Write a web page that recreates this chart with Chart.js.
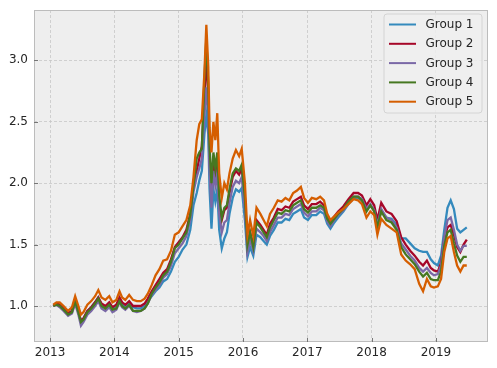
<!DOCTYPE html>
<html>
<head>
<meta charset="utf-8">
<script src="https://cdn.jsdelivr.net/npm/chart.js@4.4.1/dist/chart.umd.min.js"></script>
<style>
html,body{margin:0;padding:0;background:#fff;}
canvas{display:block;}
</style>
</head>
<body>
<canvas id="c" width="497" height="368"></canvas>
<script>
// decimal-year dates
const dates = [
2013.05,2013.10,2013.15,2013.21,2013.28,2013.34,2013.39,2013.44,2013.48,2013.52,2013.58,2013.64,2013.70,2013.75,2013.80,2013.86,2013.92,2013.97,
2014.03,2014.08,2014.12,2014.17,2014.23,2014.29,2014.35,2014.41,2014.47,2014.52,2014.58,2014.64,2014.70,2014.76,2014.82,2014.88,2014.94,
2015.00,2015.06,2015.12,2015.18,2015.23,2015.28,2015.32,2015.36,2015.40,2015.43,2015.46,2015.48,2015.51,2015.54,2015.57,2015.60,2015.63,2015.67,2015.71,2015.75,2015.79,2015.84,2015.89,2015.94,2015.98,
2016.03,2016.07,2016.11,2016.16,2016.21,2016.27,2016.32,2016.37,2016.42,2016.48,2016.54,2016.60,2016.66,2016.72,2016.78,2016.84,2016.90,2016.95,
2017.01,2017.07,2017.14,2017.20,2017.26,2017.31,2017.36,2017.42,2017.48,2017.56,2017.64,2017.72,2017.79,2017.85,2017.92,2017.98,
2018.04,2018.09,2018.15,2018.23,2018.31,2018.39,2018.46,2018.53,2018.60,2018.67,2018.74,2018.80,2018.86,2018.92,2018.97,
2019.03,2019.08,2019.13,2019.18,2019.23,2019.28,2019.33,2019.38,2019.43,2019.48
];

const group1 = [
1.00,1.02,1.01,0.98,0.94,0.96,1.05,0.96,0.87,0.90,0.96,0.99,1.03,1.07,1.01,0.99,1.02,0.98,
1.00,1.06,1.02,1.00,1.03,0.99,0.98,0.98,1.00,1.04,1.08,1.12,1.15,1.20,1.22,1.28,1.36,
1.40,1.46,1.50,1.62,1.82,1.92,2.02,2.10,2.40,2.55,2.40,1.95,1.63,1.95,1.85,1.95,1.62,1.47,1.55,1.60,1.75,1.88,1.95,1.93,1.96,
1.70,1.40,1.48,1.41,1.58,1.56,1.53,1.50,1.57,1.62,1.68,1.68,1.71,1.70,1.75,1.77,1.79,1.72,
1.70,1.74,1.74,1.77,1.75,1.67,1.63,1.68,1.72,1.77,1.83,1.88,1.88,1.86,1.78,1.82,
1.78,1.66,1.78,1.72,1.71,1.66,1.55,1.55,1.51,1.47,1.45,1.44,1.44,1.38,1.35,
1.33,1.41,1.62,1.80,1.86,1.79,1.63,1.60,1.62,1.64
];
const group2 = [
1.00,1.02,1.01,0.98,0.94,0.96,1.05,0.96,0.88,0.90,0.96,0.99,1.03,1.07,1.02,1.00,1.03,0.99,
1.01,1.07,1.03,1.01,1.04,1.00,1.00,1.00,1.02,1.06,1.12,1.17,1.22,1.27,1.30,1.38,1.48,
1.52,1.56,1.62,1.75,1.98,2.10,2.20,2.30,2.70,3.05,2.70,2.20,1.90,2.20,2.05,2.15,1.82,1.70,1.78,1.80,1.92,2.05,2.10,2.07,2.12,
1.85,1.48,1.60,1.50,1.70,1.66,1.62,1.58,1.67,1.72,1.79,1.78,1.81,1.80,1.85,1.87,1.89,1.82,
1.79,1.83,1.83,1.85,1.82,1.73,1.69,1.73,1.77,1.81,1.87,1.92,1.92,1.90,1.82,1.87,
1.82,1.70,1.84,1.77,1.75,1.69,1.56,1.50,1.45,1.41,1.36,1.33,1.37,1.31,1.29,
1.28,1.35,1.55,1.64,1.66,1.58,1.48,1.44,1.50,1.54
];
const group3 = [
1.00,1.01,0.99,0.96,0.92,0.94,1.02,0.93,0.84,0.87,0.93,0.96,1.00,1.04,0.98,0.96,0.99,0.95,
0.97,1.03,0.99,0.97,1.00,0.96,0.95,0.96,0.98,1.02,1.09,1.13,1.17,1.23,1.26,1.33,1.43,
1.47,1.51,1.57,1.70,1.93,2.05,2.12,2.20,2.55,2.78,2.55,2.10,1.80,2.10,1.98,2.08,1.75,1.60,1.68,1.70,1.84,1.97,2.02,2.00,2.05,
1.78,1.44,1.54,1.45,1.63,1.60,1.57,1.53,1.60,1.66,1.72,1.72,1.75,1.74,1.79,1.81,1.83,1.76,
1.73,1.77,1.77,1.80,1.78,1.69,1.65,1.70,1.74,1.78,1.84,1.89,1.89,1.87,1.79,1.83,
1.78,1.66,1.79,1.72,1.70,1.64,1.51,1.46,1.41,1.37,1.31,1.28,1.31,1.27,1.25,
1.26,1.33,1.56,1.70,1.72,1.62,1.50,1.45,1.49,1.49
];
const group4 = [
1.00,1.01,1.00,0.97,0.93,0.95,1.04,0.95,0.87,0.89,0.95,0.98,1.02,1.06,1.00,0.98,1.01,0.97,
0.98,1.04,1.00,0.98,1.01,0.96,0.96,0.96,0.98,1.02,1.10,1.15,1.19,1.25,1.28,1.36,1.47,
1.50,1.55,1.60,1.74,1.98,2.20,2.25,2.28,2.85,3.18,2.80,2.30,2.00,2.25,2.12,2.25,1.90,1.72,1.80,1.82,1.95,2.08,2.12,2.10,2.15,
1.88,1.50,1.60,1.48,1.68,1.64,1.60,1.56,1.64,1.70,1.76,1.75,1.78,1.77,1.82,1.84,1.86,1.79,
1.76,1.80,1.80,1.82,1.80,1.71,1.67,1.71,1.75,1.79,1.85,1.89,1.89,1.86,1.77,1.82,
1.77,1.64,1.77,1.70,1.68,1.62,1.48,1.42,1.38,1.34,1.28,1.24,1.27,1.22,1.21,
1.21,1.28,1.49,1.60,1.62,1.51,1.41,1.36,1.40,1.40
];
const group5 = [
1.01,1.03,1.03,1.00,0.96,0.99,1.08,1.00,0.93,0.95,1.01,1.04,1.08,1.13,1.07,1.05,1.08,1.03,
1.05,1.12,1.07,1.05,1.09,1.05,1.04,1.04,1.06,1.10,1.17,1.25,1.30,1.37,1.38,1.45,1.58,
1.60,1.65,1.70,1.82,2.05,2.35,2.48,2.52,2.90,3.29,2.95,2.45,2.25,2.50,2.35,2.57,2.08,1.88,2.00,1.95,2.08,2.20,2.27,2.22,2.28,
2.00,1.58,1.70,1.57,1.80,1.75,1.70,1.65,1.75,1.80,1.86,1.85,1.88,1.86,1.92,1.94,1.97,1.88,
1.84,1.88,1.87,1.89,1.86,1.75,1.70,1.73,1.76,1.79,1.83,1.87,1.86,1.83,1.72,1.77,
1.74,1.58,1.71,1.66,1.63,1.60,1.42,1.37,1.34,1.30,1.18,1.12,1.22,1.16,1.15,
1.16,1.22,1.44,1.55,1.57,1.44,1.33,1.28,1.33,1.33
];

const seriesNames = ['Group 1','Group 2','Group 3','Group 4','Group 5'];
const xTickValues = [2013,2014,2015,2016,2017,2018,2019];
const yTickValues = [1.0,1.5,2.0,2.5,3.0];
const yTickLabels = ['1.0','1.5','2.0','2.5','3.0'];

const colors = ['#348ABD','#A60628','#7A68A6','#467821','#D55E00'];
const allSeries = [group1,group2,group3,group4,group5];
const FONT = 'DejaVu Sans';

const datasets = allSeries.map((s,i)=>({
  label: seriesNames[i],
  data: dates.map((d,j)=>({x:d,y:s[j]})),
  borderColor: colors[i],
  backgroundColor: colors[i],
  borderWidth: 2.3,
  pointRadius: 0,
  tension: 0,
  fill: false,
  order: 4 - i
}));

function noPad(s){ s.paddingTop=0; s.paddingBottom=0; s.paddingLeft=0; s.paddingRight=0; }

const decor = {
  id:'decor',
  beforeDraw(chart){
    const {ctx, chartArea:a} = chart;
    ctx.save();
    ctx.fillStyle='#ffffff';
    ctx.fillRect(0,0,chart.width,chart.height);
    ctx.fillStyle='#eeeeee';
    ctx.fillRect(a.left,a.top,a.right-a.left,a.bottom-a.top);
    ctx.restore();
  },
  afterDatasetsDraw(chart){
    const {ctx, chartArea:a, scales} = chart;
    ctx.save();
    // frame
    ctx.strokeStyle='#bcbcbc';
    ctx.lineWidth=1;
    ctx.strokeRect(a.left+0.5,a.top+0.5,a.right-a.left-1,a.bottom-a.top-1);
    // inner ticks
    ctx.strokeStyle='#777';
    ctx.beginPath();
    xTickValues.forEach(v=>{
      const px=Math.round(scales.x.getPixelForValue(v))+0.5;
      ctx.moveTo(px,a.bottom); ctx.lineTo(px,a.bottom-4);
    });
    yTickValues.forEach(v=>{
      const py=Math.round(scales.y.getPixelForValue(v))+0.5;
      ctx.moveTo(a.left,py); ctx.lineTo(a.left+4,py);
    });
    ctx.stroke();
    // legend
    const bx=384, by=14, bw=98, bh=99, r=3;
    ctx.beginPath();
    ctx.moveTo(bx+r,by);
    ctx.lineTo(bx+bw-r,by); ctx.quadraticCurveTo(bx+bw,by,bx+bw,by+r);
    ctx.lineTo(bx+bw,by+bh-r); ctx.quadraticCurveTo(bx+bw,by+bh,bx+bw-r,by+bh);
    ctx.lineTo(bx+r,by+bh); ctx.quadraticCurveTo(bx,by+bh,bx,by+bh-r);
    ctx.lineTo(bx,by+r); ctx.quadraticCurveTo(bx,by,bx+r,by);
    ctx.closePath();
    ctx.fillStyle='rgba(238,238,238,0.85)';
    ctx.fill();
    ctx.strokeStyle='#d4d4d4';
    ctx.lineWidth=1;
    ctx.stroke();
    ctx.font='12px "'+FONT+'"';
    ctx.textBaseline='middle';
    ctx.textAlign='left';
    chart.data.datasets.forEach((ds,i)=>{
      const y=24.5+i*19.3;
      ctx.strokeStyle=ds.borderColor;
      ctx.lineWidth=2;
      ctx.beginPath(); ctx.moveTo(389,y); ctx.lineTo(416,y); ctx.stroke();
      ctx.fillStyle='#262626';
      ctx.fillText(ds.label,425.5,y+0.5);
    });
    ctx.restore();
  }
};

new Chart(document.getElementById('c'),{
  type:'line',
  data:{datasets},
  plugins:[decor],
  options:{
    responsive:false,
    animation:false,
    devicePixelRatio:1,
    layout:{padding:{top:10,right:9,left:0,bottom:0}},
    plugins:{legend:{display:false},tooltip:{enabled:false}},
    scales:{
      x:{
        type:'linear',
        min:2012.75, max:2019.81,
        afterBuildTicks:(s)=>{s.ticks=xTickValues.map(v=>({value:v}));},
        afterFit:(s)=>{s.height=26; noPad(s);},
        ticks:{font:{family:FONT,size:12},color:'#262626',padding:4,maxRotation:0,autoSkip:false,
          callback:(v)=>String(v)},
        grid:{color:'#c6c6c6',lineWidth:0.8,drawTicks:false},
        border:{display:false,dash:[3,2]}
      },
      y:{
        type:'linear',
        min:0.707, max:3.41,
        afterBuildTicks:(s)=>{s.ticks=yTickValues.map(v=>({value:v}));},
        afterFit:(s)=>{s.width=34; noPad(s);},
        ticks:{font:{family:FONT,size:12},color:'#262626',padding:6,autoSkip:false,
          callback:(v)=>{const k=yTickValues.indexOf(v);return k>=0?yTickLabels[k]:'';}},
        grid:{color:'#c6c6c6',lineWidth:0.8,drawTicks:false},
        border:{display:false,dash:[3,2]}
      }
    }
  }
});
</script>
</body>
</html>
